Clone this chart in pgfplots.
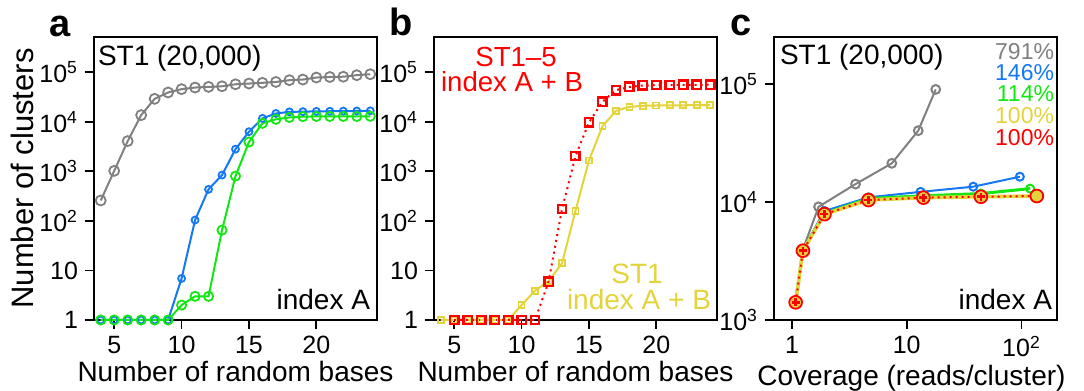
\documentclass[border=0pt]{standalone}
\usepackage{pgfplots}
\pgfplotsset{compat=1.18}
\usepackage{fontspec}
\setmainfont{Liberation Sans}
\definecolor{cgray}{RGB}{128,128,128}
\definecolor{cblue}{RGB}{20,120,245}
\definecolor{cgreen}{RGB}{20,230,20}
\definecolor{cyellow}{RGB}{228,212,60}
\definecolor{cred}{RGB}{255,0,0}
\pgfplotsset{
  common/.style={
    scale only axis, width=141.5pt, height=141.5pt,
    axis line style={line width=0.9pt},
    tick style={line width=0.9pt, black},
    tick align=outside, tick pos=left,
    major tick length=4.5pt,
    minor tick length=0pt,
    clip=false,
    ticklabel style={font=\fontsize{12.5}{14}\selectfont},
    xlabel style={font=\fontsize{14}{16}\selectfont},
    ylabel style={font=\fontsize{15.5}{17}\selectfont},
    /pgf/number format/assume math mode=true,
  },
  ab/.style={
    common, xmin=3.5, xmax=24.5, ymin=1, ymax=513000,
    xtick={5,10,15,20}, xticklabels={5,10,15,20},
    ytick={1,10,100,1000,10000,100000},
    yticklabels={1,10,10\textsuperscript{2},10\textsuperscript{3},10\textsuperscript{4},10\textsuperscript{5}},
    xlabel={Number of random bases},
    xlabel style={yshift=3pt},
  },
}
\begin{document}
\begin{tikzpicture}
\useasboundingbox (0,0) rectangle (542pt,195.5pt);
% ---------- panel a ----------
\begin{axis}[ymode=log, ab, at={(47pt,35.5pt)}, anchor=south west,
  ylabel={Number of clusters}, ylabel style={yshift=-4pt}]
\addplot[cgray, line width=1pt, mark=o, mark size=2.5pt, mark options={line width=0.9pt}] coordinates {
(4,258)(5,1020)(6,4070)(7,13600)(8,29000)(9,39000)(10,45500)(11,49000)(12,50500)(13,52000)(14,57000)(15,59000)(16,61000)(17,63500)(18,69000)(19,71000)(20,78000)(21,80000)(22,81000)(23,87000)(24,91000)};
\addplot[cblue, line width=1pt, mark=o, mark size=1.75pt, mark options={line width=0.9pt}] coordinates {
(4,1)(5,1)(6,1)(7,1)(8,1)(9,1)(10,6.9)(11,104)(12,433)(13,840)(14,2800)(15,6300)(16,11700)(17,14700)(18,15800)(19,16000)(20,16200)(21,16300)(22,16400)(23,16500)(24,16600)};
\addplot[cgreen, line width=1pt, mark=o, mark size=2.3pt, mark options={line width=0.9pt}] coordinates {
(4,1)(5,1)(6,1)(7,1)(8,1)(9,1)(10,2.0)(11,3.0)(12,3.0)(13,65)(14,800)(15,3900)(16,9300)(17,11200)(18,12200)(19,12700)(20,12800)(21,12800)(22,12800)(23,12800)(24,12900)};
\end{axis}
% ---------- panel b ----------
\begin{axis}[ymode=log, ab, at={(217pt,35.5pt)}, anchor=south west]
\addplot[cyellow, line width=1pt, mark=square, mark size=1.5pt, mark options={line width=0.9pt, solid}] coordinates {
(4,1)(5,1)(6,1)(7,1)(8,1)(9,1)(10,2.0)(11,3.9)(12,6.1)(13,13.9)(14,160)(15,1660)(16,8100)(17,16600)(18,20000)(19,21000)(20,21300)(21,21400)(22,21500)(23,21600)(24,21800)};
\addplot[cred, line width=1pt, dotted, mark=square, mark size=2.1pt, mark options={line width=1.2pt, solid}] coordinates {
(5,1)(6,1)(7,1)(8,1)(9,1)(10,1)(11,1)(12,5.9)(13,173)(14,2030)(15,9700)(16,25300)(17,43500)(18,50500)(19,54000)(20,55000)(21,55000)(22,55500)(23,55500)(24,56000)};
\end{axis}
% ---------- panel c ----------
\begin{axis}[xmode=log, ymode=log, common, at={(387pt,35.5pt)}, anchor=south west,
  xmin=0.697, xmax=204, ymin=1000, ymax=251000,
  xtick={1,10,100}, xticklabels={1,10,10\textsuperscript{2}},
  ytick={1000,10000,100000},
  yticklabels={10\textsuperscript{3},10\textsuperscript{4},10\textsuperscript{5}},
  xlabel={Coverage (reads/cluster)}, xlabel style={yshift=3pt, xshift=-2pt}]
\addplot[cgray, line width=1pt, mark=o, mark size=2.2pt, mark options={line width=1pt}] coordinates {
(1.076,1412)(1.246,3975)(1.705,9120)(3.58,14200)(7.41,21300)(12.6,40300)(17.9,90200)};
\addplot[cblue, line width=1pt, mark=o, mark size=2pt, mark options={line width=1pt}] coordinates {
(1.076,1412)(1.246,3975)(1.92,8400)(4.64,10960)(13.2,12200)(38.0,13500)(96.8,16400)};
\addplot[cgreen, line width=1.5pt, mark=o, mark size=2pt, mark options={line width=1pt}] coordinates {
(1.076,1412)(1.246,3950)(1.92,8000)(4.64,10700)(13.96,11300)(44.3,11800)(119,13000)};
\addplot[cyellow, line width=1.8pt, mark=*, mark size=2.6pt, mark options={line width=0.6pt, fill=cyellow}] coordinates {
(1.076,1412)(1.246,3870)(1.92,7900)(4.64,10400)(13.96,10900)(44.3,11090)(136,11250)};
\addplot[cred, line width=1pt, dotted, mark=o, mark size=3.2pt, mark options={line width=0.9pt, solid}] coordinates {
(1.076,1412)(1.246,3870)(1.92,7900)(4.64,10400)(13.96,10900)(44.3,11090)(136,11250)};
\addplot[cred, only marks, mark=+, mark size=2pt, mark options={line width=1.3pt}] coordinates {
(1.076,1412)(1.246,3870)(1.92,7900)(4.64,10400)(13.96,10900)(44.3,11090)};
\end{axis}
% ---------- annotations ----------
\begin{scope}[every node/.style={inner sep=0pt, outer sep=0pt}]
\node[font=\bfseries\fontsize{19}{21}\selectfont, anchor=base] at (30pt,177pt) {a};
\node[font=\bfseries\fontsize{19}{21}\selectfont, anchor=base] at (200.8pt,177.5pt) {b};
\node[font=\bfseries\fontsize{19}{21}\selectfont, anchor=base] at (370.4pt,177.5pt) {c};
\node[font=\fontsize{14}{16}\selectfont, anchor=base west] at (49pt,162.7pt) {ST1 (20,000)};
\node[font=\fontsize{14}{16}\selectfont, anchor=base east] at (185pt,40.5pt) {index A};
\node[font=\fontsize{13.8}{16}\selectfont, anchor=base, text=cred] at (258pt,162.3pt) {ST1–5};
\node[font=\fontsize{13.8}{16}\selectfont, anchor=base, text=cred] at (256pt,149.5pt) {index A + B};
\node[font=\fontsize{14}{16}\selectfont, anchor=base, text=cyellow] at (318.5pt,53.8pt) {ST1};
\node[font=\fontsize{14}{16}\selectfont, anchor=base, text=cyellow] at (319.5pt,40.5pt) {index A + B};
\node[font=\fontsize{14}{16}\selectfont, anchor=base west] at (390pt,163pt) {ST1 (20,000)};
\node[font=\fontsize{14}{16}\selectfont, anchor=base east] at (526pt,40.5pt) {index A};
\node[font=\fontsize{11.5}{13}\selectfont, anchor=base east, text=cgray] at (527pt,165.5pt) {791\%};
\node[font=\fontsize{11.5}{13}\selectfont, anchor=base east, text=cblue] at (527pt,155pt) {146\%};
\node[font=\fontsize{11.5}{13}\selectfont, anchor=base east, text=cgreen] at (527pt,144.7pt) {114\%};
\node[font=\fontsize{11.5}{13}\selectfont, anchor=base east, text=cyellow] at (527pt,133.5pt) {100\%};
\node[font=\fontsize{11.5}{13}\selectfont, anchor=base east, text=cred] at (527pt,122.5pt) {100\%};
\end{scope}
\end{tikzpicture}
\end{document}
